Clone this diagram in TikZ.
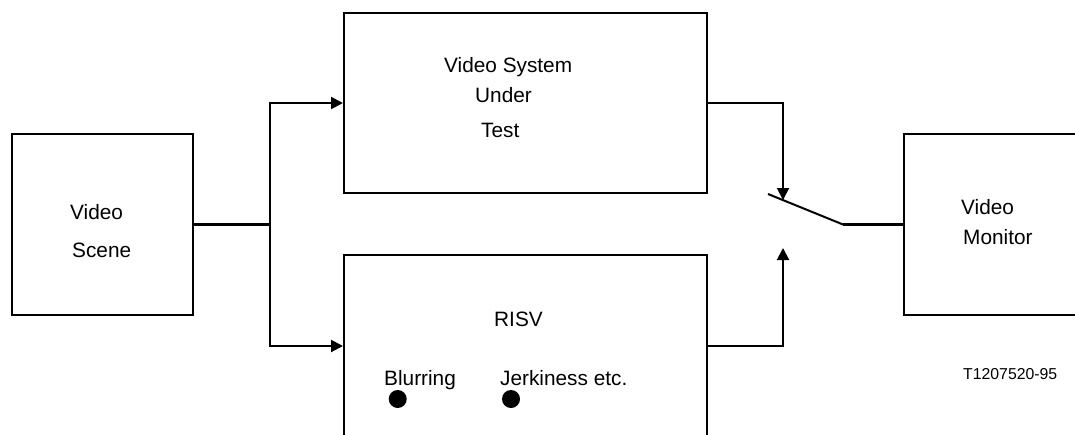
\documentclass[tikz,border=0pt]{standalone}
\usepackage{fontspec}
\setmainfont{Liberation Sans}
\usetikzlibrary{arrows.meta}

\begin{document}
\begin{tikzpicture}[x=1pt,y=-1pt,
  box/.style={draw,line width=2pt,inner sep=0pt},
  txt/.style={anchor=base west,inner sep=0pt,font=\fontsize{20.8}{24}\selectfont},
  wire/.style={line width=2pt},
  feed/.style={line width=3pt},
  arr/.style={wire,-{Triangle[length=12pt,width=12pt]}},
  dot/.style={circle,fill,inner sep=0pt,minimum size=18pt}]
  \useasboundingbox (0,0) rectangle (1075,434);
  % boxes
  \node[box,minimum width=181pt,minimum height=181pt] (scene) at (102.5,224.5) {};
  \node[box,minimum width=363pt,minimum height=180pt] (sut) at (525.5,103) {};
  \node[box,minimum width=363pt,minimum height=182pt] (risv) at (525.5,346) {};
  \node[box,minimum width=191pt,minimum height=181pt] (monitor) at (999.5,224.5) {};
  % texts
  \node[txt] (sceneA) at (70,219) {Video};
  \node[txt] (sceneB) at (72,257) {Scene};
  \node[txt] (sutA) at (444,72) {Video System};
  \node[txt] (sutB) at (475,102) {Under};
  \node[txt] (sutC) at (481,137) {Test};
  \node[txt] (risvA) at (494,326) {RISV};
  \node[txt] (blur) at (384,385) {Blurring};
  \node[txt] (jerk) at (500,385) {Jerkiness etc.};
  \node[txt] (monA) at (961,214) {Video};
  \node[txt] (monB) at (963,244) {Monitor};
  \node[txt,font=\fontsize{15.8}{18}\selectfont] (fig) at (963,379) {T1207520-95};
  \node[dot] (blurdot) at (397.7,399) {};
  \node[dot] (jerkdot) at (511,399) {};
  % switch
  \coordinate (branch) at (270,224.5);
  \coordinate (swtop) at (783,200);
  \coordinate (swbot) at (783,248);
  \coordinate (pivot) at (843,224.5);
  \coordinate (blade) at (768,194);
  \draw[feed] (scene.east) -- (branch);
  \draw[arr] (branch) |- (sut.west);
  \draw[arr] (branch) |- (risv.west);
  \draw[arr] (sut.east) -| (swtop);
  \draw[arr] (risv.east) -| (swbot);
  \draw[wire] (pivot) -- (blade);
  \draw[feed] (pivot) -- (monitor.west);
\end{tikzpicture}
\end{document}
